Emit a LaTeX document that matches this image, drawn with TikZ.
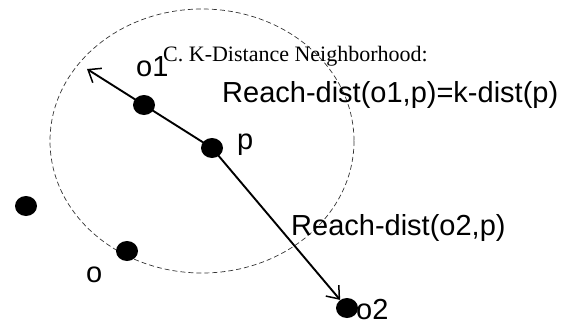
\documentclass[tikz,border=0pt]{standalone}
\usepackage{fontspec}
\setmainfont{Liberation Serif}
\setsansfont{Liberation Sans}
\usetikzlibrary{arrows.meta,shapes.geometric}

\begin{document}
\begin{tikzpicture}[x=1pt,y=-1pt,
  dot/.style={ellipse,fill=black,minimum width=22pt,minimum height=20pt,inner sep=0pt},
  lbl/.style={anchor=base west,inner sep=0pt,font=\sffamily\fontsize{29}{34}\selectfont},
  headtext/.style={anchor=base west,inner sep=0pt,font=\fontsize{22}{26}\selectfont},
  reach/.style={line width=1.9pt,-{Straight Barb[length=11pt,width=17pt,line width=1.5pt]}}]
  \useasboundingbox (0,0) rectangle (572,324);
  % neighborhood of p
  \draw[dash pattern=on 5pt off 3pt,line width=0.7pt,black!80] (202,141) ellipse (152 and 132);
  % points
  \node[dot] (o1) at (144,105) {};
  \node[dot] (p) at (212,148) {};
  \node[dot] (q) at (26,206) {};
  \node[dot] (o) at (127,251) {};
  \node[dot] (o2) at (347,308) {};
  \coordinate (tip1) at (87,69);
  % reach distances
  \draw[reach] (p.center) -- (tip1);
  \draw[reach] (p.center) -- (o2);
  % labels
  \node[headtext] (head) at (163,61) {C. K-Distance Neighborhood:};
  \node[lbl] (lo1) at (136,76) {o1};
  \node[lbl] (lp) at (237,149) {p};
  \node[lbl] (lo) at (86,282) {o};
  \node[lbl] (lo2) at (356,319) {o2};
  \node[lbl] (r1) at (222,102) {Reach-dist(o1,p)=k-dist(p)};
  \node[lbl] (r2) at (291,235) {Reach-dist(o2,p)};
\end{tikzpicture}
\end{document}
